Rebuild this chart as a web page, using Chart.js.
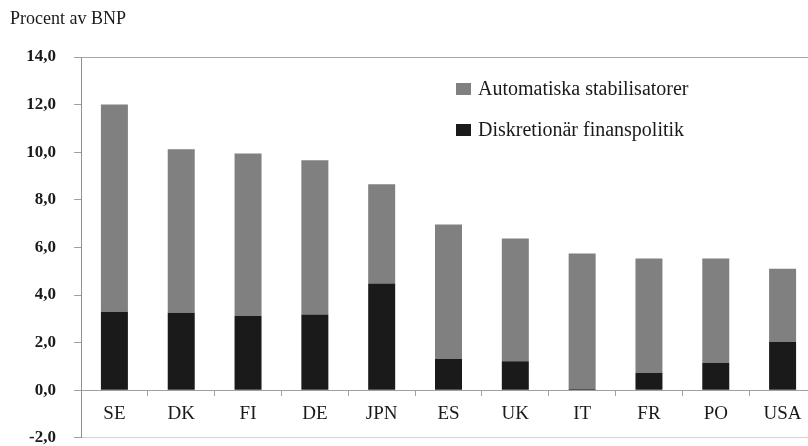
<!DOCTYPE html>
<html>
<head>
<meta charset="utf-8">
<script src="https://cdn.jsdelivr.net/npm/chart.js@4/dist/chart.umd.min.js"></script>
<style>
html,body{margin:0;padding:0;background:#fff;overflow:hidden;width:808px;height:446px;}
canvas{display:block;}
</style>
</head>
<body>
<canvas id="c" width="816" height="466" style="width:816px;height:466px"></canvas>
<script>
const categories = ['SE','DK','FI','DE','JPN','ES','UK','IT','FR','PO','USA'];
const discretionary = [3.3, 3.25, 3.13, 3.18, 4.48, 1.31, 1.22, 0.05, 0.72, 1.14, 2.02];
const automatic = [8.7, 6.87, 6.82, 6.48, 4.17, 5.65, 5.15, 5.69, 4.81, 4.39, 3.08];
const yTicks = [-2, 0, 2, 4, 6, 8, 10, 12, 14];
const yTitle = 'Procent av BNP';
const seriesNames = ['Automatiska stabilisatorer', 'Diskretionär finanspolitik'];

const SERIF = '"Liberation Serif", "DejaVu Serif", serif';
const GRAY = '#808080';
const BLACK = '#1a1a1a';

const overlay = {
  id: 'overlay',
  afterDraw(chart) {
    const ctx = chart.ctx;
    ctx.save();
    ctx.fillStyle = '#1a1a1a';
    ctx.font = '18px ' + SERIF;
    ctx.textBaseline = 'middle';
    ctx.textAlign = 'left';
    ctx.fillText(yTitle, 10, 19);
    const items = [chart.data.datasets[1], chart.data.datasets[0]];
    const lx = 456, ly0 = 89, gap = 41;
    ctx.font = '20px ' + SERIF;
    items.forEach((ds, i) => {
      const y = ly0 + i * gap;
      ctx.fillStyle = ds.backgroundColor;
      ctx.fillRect(lx, y - 6, 15, 12);
      ctx.fillStyle = '#1a1a1a';
      ctx.fillText(ds.label, lx + 22, y + 1);
    });
    ctx.restore();
  }
};

new Chart(document.getElementById('c'), {
  type: 'bar',
  data: {
    labels: categories,
    datasets: [
      { label: seriesNames[1], data: discretionary, backgroundColor: BLACK, stack: 's' },
      { label: seriesNames[0], data: automatic, backgroundColor: GRAY, stack: 's' }
    ]
  },
  options: {
    responsive: false,
    animation: false,
    devicePixelRatio: 1,
    layout: { padding: { left: 0, right: 0, top: 57, bottom: 0 } },
    datasets: { bar: { barPercentage: 0.404, categoryPercentage: 1.0 } },
    plugins: {
      legend: { display: false },
      title: { display: false },
      tooltip: { enabled: false }
    },
    scales: {
      x: {
        stacked: true,
        position: { y: 0 },
        offset: true,
        afterFit(scale) { scale.height = 0; },
        grid: {
          offset: true,
          drawOnChartArea: false,
          drawTicks: true,
          tickLength: 5,
          color: '#a0a0a0'
        },
        border: { display: true, color: '#a0a0a0', width: 1 },
        ticks: {
          font: { family: SERIF, size: 19 },
          color: '#1a1a1a',
          padding: 7,
          maxRotation: 0,
          autoSkip: false
        }
      },
      y: {
        stacked: true,
        min: -2,
        max: 14,
        afterFit(scale) { scale.width = 81; },
        afterBuildTicks(scale) { scale.ticks = yTicks.map(v => ({ value: v })); },
        grid: {
          drawOnChartArea: true,
          drawTicks: true,
          tickLength: 7,
          tickColor: '#a0a0a0',
          color: (c) => {
            const v = c.tick && c.tick.value;
            if (v === 14) return '#a8a8a8';
            if (v === -2) return '#d4d4d4';
            return 'rgba(0,0,0,0)';
          }
        },
        border: { display: true, color: '#909090', width: 1 },
        ticks: {
          font: { family: SERIF, size: 17, weight: 'bold' },
          color: '#1a1a1a',
          padding: 18,
          callback: (v) => Number(v).toFixed(1).replace('.', ',')
        }
      }
    }
  },
  plugins: [overlay]
});
</script>
</body>
</html>
